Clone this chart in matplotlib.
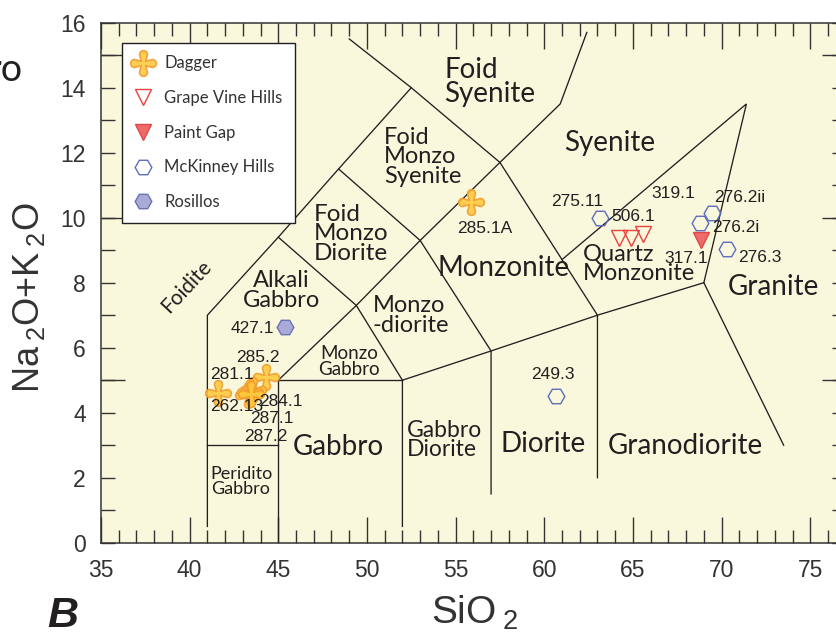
import numpy as np
import matplotlib
matplotlib.use("Agg")
import matplotlib.pyplot as plt
from matplotlib.path import Path
from matplotlib.ticker import MultipleLocator, FixedLocator, FuncFormatter
from matplotlib.lines import Line2D

plt.rcParams['mathtext.default'] = 'regular'

NARROW = ['Liberation Sans', 'DejaVu Sans']
HUMAN = ['Lato', 'DejaVu Sans']

# --- sample data (SiO2 wt%, Na2O+K2O wt%) ---
dagger_id = ['285.1A', '285.2', '281.1', '262.13', '284.1', '287.1', '287.2']
dagger_si = [55.87, 44.30, 41.58, 43.30, 43.55, 43.40, 43.45]
dagger_alk = [10.49, 5.10, 4.60, 4.55, 4.70, 4.63, 4.58]

grape_id = ['', '506.1', '319.1']
grape_si = [64.23, 64.88, 65.59]
grape_alk = [9.39, 9.39, 9.51]

paint_id = ['317.1']
paint_si = [68.83]
paint_alk = [9.30]

mck_id = ['275.11', '276.2i', '276.2ii', '276.3', '249.3']
mck_si = [63.15, 68.78, 69.44, 70.29, 60.66]
mck_alk = [9.98, 9.85, 10.14, 9.04, 4.51]

ros_id = ['427.1']
ros_si = [45.40]
ros_alk = [6.63]

# where each sample number is written (data coords of the text centre)
dagger_lab = [(56.66, 9.66), (43.87, 5.70), (42.39, 5.16), (42.67, 4.18),
              (45.15, 4.34), (44.64, 3.81), (44.31, 3.26)]
grape_lab = [None, (65.02, 10.03), (67.28, 10.75)]
paint_lab = [(68.03, 8.75)]
mck_lab = [(61.83, 10.49), (70.81, 9.70), (71.02, 10.63), (72.15, 8.78),
           (60.51, 5.16)]
ros_lab = [(43.53, 6.58)]

# field boundaries of the plutonic TAS classification (Middlemost 1994)
boundaries = [
    [(41, 0.5), (41, 7), (45, 9.4), (48.4, 11.5), (52.5, 14), (49, 15.5)],
    [(41, 3), (45, 3)],
    [(45, 0), (45, 5), (52, 5)],
    [(52, 0.5), (52, 5), (57, 5.9), (63, 7), (69, 8), (73.5, 3)],
    [(45, 5), (49.4, 7.3), (53, 9.3), (57.5, 11.7), (60.9, 13.5), (62.4, 15.7)],
    [(45, 9.4), (49.4, 7.3), (52, 5)],
    [(48.4, 11.5), (53, 9.3), (57, 5.9), (57, 1.5)],
    [(52.5, 14), (57.5, 11.7), (63, 7), (63, 2)],
    [(61, 8.71), (71.4, 13.5), (69, 8)],
]

# field names: text, x, y, font size, alignment of lines
fields = [
    ("Foid\nSyenite", 56.94, 14.17, 20, 'left'),
    ("Syenite", 63.69, 12.3, 20, 'center'),
    ("Foid\nMonzo\nSyenite", 53.16, 11.87, 17, 'left'),
    ("Foid\nMonzo\nDiorite", 49.1, 9.5, 17.5, 'left'),
    ("Alkali\nGabbro", 45.18, 7.75, 17, 'center'),
    ("Monzo\n-diorite", 52.48, 7.0, 17, 'left'),
    ("Monzonite", 57.69, 8.45, 20, 'center'),
    ("Quartz\nMonzonite", 65.32, 8.57, 17, 'left'),
    ("Granite", 72.94, 7.87, 20, 'center'),
    ("Monzo\nGabbro", 48.99, 5.58, 13.5, 'center'),
    ("Gabbro", 48.37, 2.95, 20, 'center'),
    ("Gabbro\nDiorite", 54.4, 3.16, 16.5, 'left'),
    ("Diorite", 59.95, 3.05, 20, 'center'),
    ("Granodiorite", 67.95, 2.97, 20, 'center'),
    ("Peridito\nGabbro", 42.94, 1.87, 13, 'left'),
]


def rounded_plus(w=0.62, n=16):
    # plus sign with round arm ends
    r = w / 2
    verts = []
    for k in range(4):
        ang = k * np.pi / 2
        c = np.array([np.cos(ang), np.sin(ang)]) * (1 - r)
        t = np.linspace(ang - np.pi / 2, ang + np.pi / 2, n)
        verts += list(zip(c[0] + r * np.cos(t), c[1] + r * np.sin(t)))
        a2 = ang + np.pi / 4
        verts.append((0.8 * r * np.cos(a2), 0.8 * r * np.sin(a2)))
    verts.append(verts[0])
    return Path(verts, closed=True)


DAGGER = rounded_plus()

fig = plt.figure(figsize=(8.36, 6.39), dpi=100)
ax = fig.add_axes([0.1208, 0.1507, 0.8908, 0.8138])
ax.set_facecolor('#FAF8DC')
ax.set_xlim(35, 77)
ax.set_ylim(0, 16)

for line in boundaries:
    xs, ys = zip(*line)
    ax.plot(xs, ys, color='#231F20', lw=0.95, solid_joinstyle='miter', zorder=2)

for text, x, y, fs, al in fields:
    ax.text(x, y, text, fontsize=fs, family=HUMAN, color='#231F20',
            ha='center', va='center', multialignment=al, linespacing=0.92,
            zorder=3)

ax.text(39.83, 7.87, "Foidite", fontsize=15, family=HUMAN, color='#231F20',
        rotation=47, ha='center', va='center', zorder=3)

styles = dict(
    dagger=dict(marker=DAGGER, ms=18.5, mfc='#FFC93C', mec='#F29A2E', mew=1.2, alpha=0.88),
    grape=dict(marker='v', ms=12, mfc='none', mec='#E8423C', mew=1.0),
    paint=dict(marker='v', ms=12, mfc='#EF6A6A', mec='#E04848', mew=1.0),
    mck=dict(marker='H', ms=12, mfc='none', mec='#5D6DBE', mew=1.0),
    ros=dict(marker='H', ms=12, mfc='#A9AAD6', mec='#6B73B8', mew=1.0),
)

groups = [
    ('Dagger', 'dagger', dagger_si, dagger_alk, dagger_id, dagger_lab),
    ('Grape Vine Hills', 'grape', grape_si, grape_alk, grape_id, grape_lab),
    ('Paint Gap', 'paint', paint_si, paint_alk, paint_id, paint_lab),
    ('McKinney Hills', 'mck', mck_si, mck_alk, mck_id, mck_lab),
    ('Rosillos', 'ros', ros_si, ros_alk, ros_id, ros_lab),
]

handles = []
for name, key, si, alk, ids, labs in groups:
    ax.plot(si, alk, ls='none', zorder=4, **styles[key])
    handles.append(Line2D([], [], ls='none', label=name, **styles[key]))
    for sid, pos in zip(ids, labs):
        if pos is None:
            continue
        ax.text(pos[0], pos[1], sid, fontsize=12.5, family=NARROW,
                color='#231F20', ha='center', va='center', zorder=5)

leg = ax.legend(handles=handles, loc='upper left', bbox_to_anchor=(0.028, 0.961),
                borderaxespad=0, frameon=True, fancybox=False, framealpha=1,
                edgecolor='#231F20', prop={'family': HUMAN, 'size': 12},
                labelspacing=1.12, handlelength=1.0, handletextpad=0.8,
                borderpad=0.75)
leg.get_frame().set_linewidth(1.0)
for t in leg.get_texts():
    t.set_color('#333333')

# axes frame and ticks
for sp in ax.spines.values():
    sp.set_linewidth(1.1)
    sp.set_color('#333333')

ax.xaxis.set_major_locator(MultipleLocator(5))
ax.xaxis.set_minor_locator(MultipleLocator(1))
ax.yaxis.set_major_locator(MultipleLocator(1))
ax.yaxis.set_minor_locator(FixedLocator([5, 10, 15]))
ax.yaxis.remove_overlapping_locs = False
ax.yaxis.set_major_formatter(FuncFormatter(lambda v, p: f"{v:.0f}" if v % 2 == 0 else ""))

ax.tick_params(axis='both', which='both', direction='in', top=True, right=True,
               color='#333333', width=1.0)
ax.tick_params(axis='x', which='major', length=19, pad=12)
ax.tick_params(axis='x', which='minor', length=9.5)
ax.tick_params(axis='y', which='major', length=10, pad=11)
ax.tick_params(axis='y', which='minor', length=17)
for lab in ax.get_xticklabels() + ax.get_yticklabels():
    lab.set_family(NARROW)
    lab.set_fontsize(16.5)
    lab.set_color('#333333')

ax.set_xlabel("SiO$\\,_2$", fontsize=28, family=NARROW, color='#333333')
ax.set_ylabel("Na$\\,_2$O+K$\\,_2$O", fontsize=26, family=NARROW, color='#333333')
ax.xaxis.set_label_coords(0.502, -0.099)
ax.yaxis.set_label_coords(-0.0967, 0.4715)
ax.yaxis.label.set_va('center')

fig.text(0.075, 0.036, "B", fontsize=31, fontweight='bold', fontstyle='italic',
         family=['Liberation Sans', 'DejaVu Sans'], color='#231F20', ha='center',
         va='center')
fig.text(0.027, 0.89, "ro", fontsize=27, family=HUMAN, color='#231F20',
         ha='right', va='center')

fig.savefig("out.png", dpi=100)
